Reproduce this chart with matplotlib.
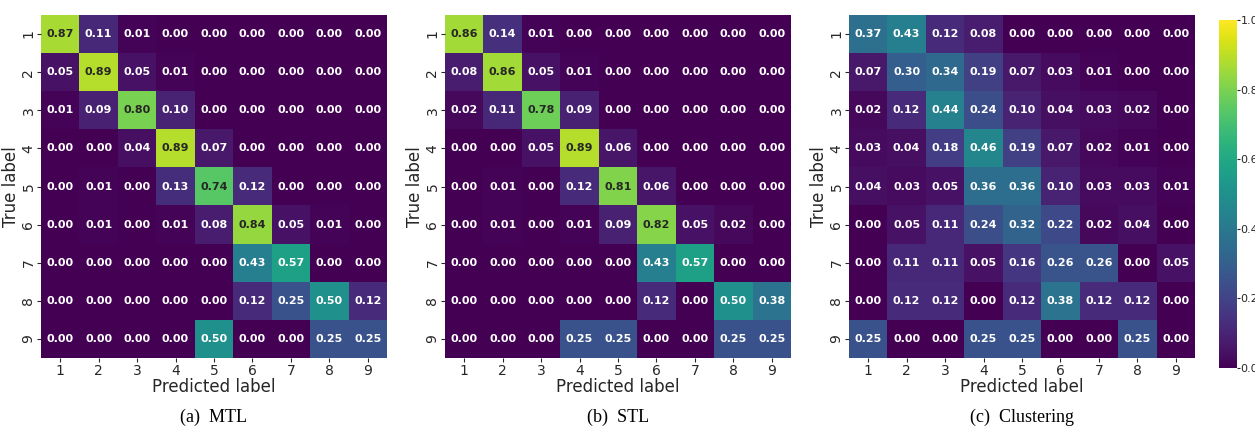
import numpy as np
import matplotlib
matplotlib.use("Agg")
import matplotlib.pyplot as plt
from matplotlib.colors import Normalize

labels = ["1", "2", "3", "4", "5", "6", "7", "8", "9"]
titles = ["(a)  MTL", "(b)  STL", "(c)  Clustering"]

mtl = [
    [0.87, 0.11, 0.01, 0.00, 0.00, 0.00, 0.00, 0.00, 0.00],
    [0.05, 0.89, 0.05, 0.01, 0.00, 0.00, 0.00, 0.00, 0.00],
    [0.01, 0.09, 0.80, 0.10, 0.00, 0.00, 0.00, 0.00, 0.00],
    [0.00, 0.00, 0.04, 0.89, 0.07, 0.00, 0.00, 0.00, 0.00],
    [0.00, 0.01, 0.00, 0.13, 0.74, 0.12, 0.00, 0.00, 0.00],
    [0.00, 0.01, 0.00, 0.01, 0.08, 0.84, 0.05, 0.01, 0.00],
    [0.00, 0.00, 0.00, 0.00, 0.00, 0.43, 0.57, 0.00, 0.00],
    [0.00, 0.00, 0.00, 0.00, 0.00, 0.12, 0.25, 0.50, 0.12],
    [0.00, 0.00, 0.00, 0.00, 0.50, 0.00, 0.00, 0.25, 0.25],
]
stl = [
    [0.86, 0.14, 0.01, 0.00, 0.00, 0.00, 0.00, 0.00, 0.00],
    [0.08, 0.86, 0.05, 0.01, 0.00, 0.00, 0.00, 0.00, 0.00],
    [0.02, 0.11, 0.78, 0.09, 0.00, 0.00, 0.00, 0.00, 0.00],
    [0.00, 0.00, 0.05, 0.89, 0.06, 0.00, 0.00, 0.00, 0.00],
    [0.00, 0.01, 0.00, 0.12, 0.81, 0.06, 0.00, 0.00, 0.00],
    [0.00, 0.01, 0.00, 0.01, 0.09, 0.82, 0.05, 0.02, 0.00],
    [0.00, 0.00, 0.00, 0.00, 0.00, 0.43, 0.57, 0.00, 0.00],
    [0.00, 0.00, 0.00, 0.00, 0.00, 0.12, 0.00, 0.50, 0.38],
    [0.00, 0.00, 0.00, 0.25, 0.25, 0.00, 0.00, 0.25, 0.25],
]
clustering = [
    [0.37, 0.43, 0.12, 0.08, 0.00, 0.00, 0.00, 0.00, 0.00],
    [0.07, 0.30, 0.34, 0.19, 0.07, 0.03, 0.01, 0.00, 0.00],
    [0.02, 0.12, 0.44, 0.24, 0.10, 0.04, 0.03, 0.02, 0.00],
    [0.03, 0.04, 0.18, 0.46, 0.19, 0.07, 0.02, 0.01, 0.00],
    [0.04, 0.03, 0.05, 0.36, 0.36, 0.10, 0.03, 0.03, 0.01],
    [0.00, 0.05, 0.11, 0.24, 0.32, 0.22, 0.02, 0.04, 0.00],
    [0.00, 0.11, 0.11, 0.05, 0.16, 0.26, 0.26, 0.00, 0.05],
    [0.00, 0.12, 0.12, 0.00, 0.12, 0.38, 0.12, 0.12, 0.00],
    [0.25, 0.00, 0.00, 0.25, 0.25, 0.00, 0.00, 0.25, 0.00],
]
matrices = [mtl, stl, clustering]

W, H = 1255, 428
fig = plt.figure(figsize=(W / 100, H / 100), dpi=100)
cmap = plt.get_cmap("viridis")
norm = Normalize(0, 1)

lefts = [41, 445, 849]
ax_w = 346
top, bottom = 15, 358
tick_color = "#262626"


def rel_lum(rgba):
    ch = np.array(rgba[:3])
    lin = np.where(ch <= 0.03928, ch / 12.92, ((ch + 0.055) / 1.055) ** 2.4)
    return 0.2126 * lin[0] + 0.7152 * lin[1] + 0.0722 * lin[2]


for i, (mat, title, lx) in enumerate(zip(matrices, titles, lefts)):
    ax = fig.add_axes([lx / W, 1 - bottom / H, ax_w / W, (bottom - top) / H])
    m = np.array(mat)
    im = ax.imshow(m, cmap=cmap, norm=norm, aspect="auto", interpolation="nearest")
    for r in range(m.shape[0]):
        for c in range(m.shape[1]):
            col = "#262626" if rel_lum(cmap(norm(m[r, c]))) > 0.408 else "white"
            ax.text(c, r, f"{m[r, c]:.2f}", ha="center", va="center",
                    fontsize=8, fontweight="bold", color=col)
    ax.set_xticks(range(9))
    ax.set_yticks(range(9))
    ax.set_xticklabels(labels, fontsize=10, color=tick_color)
    ax.set_yticklabels(labels, fontsize=10, color=tick_color, rotation=90, va="center")
    ax.tick_params(length=3, width=0.8, color=tick_color, pad=1)
    for s in ax.spines.values():
        s.set_visible(False)
    ax.set_xlabel("Predicted label", fontsize=12, color=tick_color, labelpad=0)
    ax.set_ylabel("True label", fontsize=12, color=tick_color, labelpad=1)
    fig.text((lx + ax_w / 2) / W, 1 - 417 / H, title, ha="center", va="center",
             fontsize=13, family="Liberation Serif")

cax = fig.add_axes([1219 / W, 1 - 368 / H, 18 / W, 348 / H])
cb = fig.colorbar(im, cax=cax)
cb.outline.set_visible(False)
cb.set_ticks([0.0, 0.2, 0.4, 0.6, 0.8, 1.0])
cax.tick_params(labelsize=8, length=2, width=0.8, colors=tick_color, pad=0.5)

fig.savefig("out.png", dpi=100)
